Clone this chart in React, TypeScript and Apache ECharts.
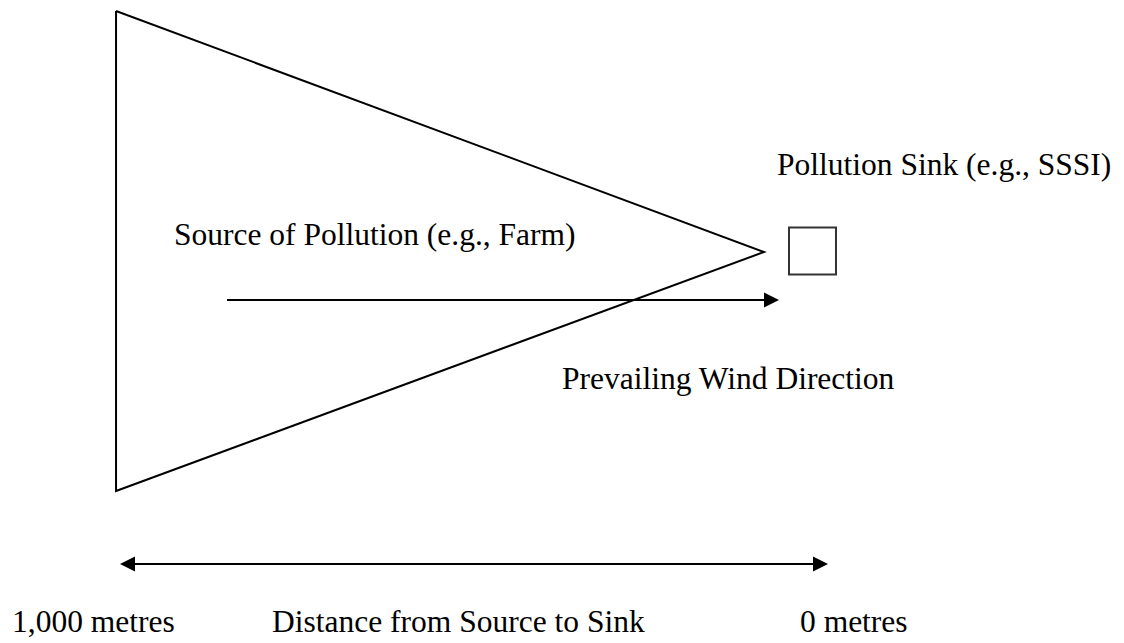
import React, { useEffect, useRef } from "react";
import * as echarts from "echarts";

// Diagram coordinates: x in metres from the sink (1,000 m at the left, 0 m at the right), y in diagram units (top = 0)
const plumeX = [1005.6, 90.4, 1005.6, 1005.6];
const plumeY = [11, 252, 491, 11];
const sinkX = [21.9];
const sinkY = [251];
// arrows: [fromX, fromY, toX, toY, headAtStart, headAtEnd]
const windArrow = [848.9, 300, 69.2, 300, 0, 1];
const distanceArrow = [1000, 564, 0, 564, 1, 1];

const sinkLabel = "Pollution Sink (e.g., SSSI)";
const sourceLabel = "Source of Pollution (e.g., Farm)";
const windLabel = "Prevailing Wind Direction";
const distanceLabels = ["1,000 metres", "Distance from Source to Sink", "0 metres"];

const FONT = "'Liberation Serif', 'Times New Roman', serif";
const FS = 31.5;

export default function App() {
  const ref = useRef<HTMLDivElement>(null);
  useEffect(() => {
    document.body.style.margin = "0";
    const chart = echarts.init(ref.current!, null, { renderer: "svg" });
    const txt = (text: string, x: number, baseline: number) => ({
      type: "text",
      x,
      y: baseline - 0.3375 * FS,
      style: {
        text,
        font: `${FS}px ${FONT}`,
        fill: "#000",
        align: "left",
        verticalAlign: "middle",
      },
    });
    chart.setOption({
      animation: false,
      backgroundColor: "#fff",
      grid: { left: 112.92, right: 296, top: 0, bottom: 0 },
      xAxis: { type: "value", min: 0, max: 1010, inverse: true, show: false },
      yAxis: { type: "value", min: 0, max: 643, inverse: true, show: false },
      series: [
        {
          type: "line",
          data: plumeX.map((x, i) => [x, plumeY[i]]),
          symbol: "none",
          clip: false,
          lineStyle: { color: "#000", width: 2, join: "miter" },
        },
        {
          type: "scatter",
          data: sinkX.map((x, i) => [x, sinkY[i]]),
          symbol: "rect",
          symbolSize: 47,
          clip: false,
          itemStyle: { color: "#fff", borderColor: "#000", borderWidth: 2 },
        },
        {
          type: "custom",
          clip: false,
          data: [windArrow, distanceArrow],
          renderItem: (params: any, api: any) => {
            const p1 = api.coord([api.value(0), api.value(1)]);
            const p2 = api.coord([api.value(2), api.value(3)]);
            const hs = api.value(4);
            const he = api.value(5);
            const dx = p2[0] - p1[0];
            const dy = p2[1] - p1[1];
            const len = Math.sqrt(dx * dx + dy * dy);
            const ux = dx / len;
            const uy = dy / len;
            const L = 15;
            const W = 7.5;
            const a = hs ? [p1[0] + ux * (L - 1), p1[1] + uy * (L - 1)] : p1;
            const b = he ? [p2[0] - ux * (L - 1), p2[1] - uy * (L - 1)] : p2;
            const head = (tip: number[], dirx: number, diry: number) => {
              const bx = tip[0] - dirx * L;
              const by = tip[1] - diry * L;
              return {
                type: "polygon",
                shape: {
                  points: [
                    tip,
                    [bx - diry * W, by + dirx * W],
                    [bx + diry * W, by - dirx * W],
                  ],
                },
                style: { fill: "#000" },
              };
            };
            const children: any[] = [
              {
                type: "line",
                shape: { x1: a[0], y1: a[1], x2: b[0], y2: b[1] },
                style: { stroke: "#000", lineWidth: 2 },
              },
            ];
            if (he) children.push(head(p2, ux, uy));
            if (hs) children.push(head(p1, -ux, -uy));
            return { type: "group", children };
          },
        },
      ],
      graphic: [
        txt(sinkLabel, 777, 175),
        txt(sourceLabel, 174, 245),
        txt(windLabel, 562, 389),
        txt(distanceLabels[0], 12, 632),
        txt(distanceLabels[1], 272, 632),
        txt(distanceLabels[2], 800, 632),
      ],
    });
    return () => chart.dispose();
  }, []);
  return <div ref={ref} style={{ width: 1124, height: 643 }} />;
}
